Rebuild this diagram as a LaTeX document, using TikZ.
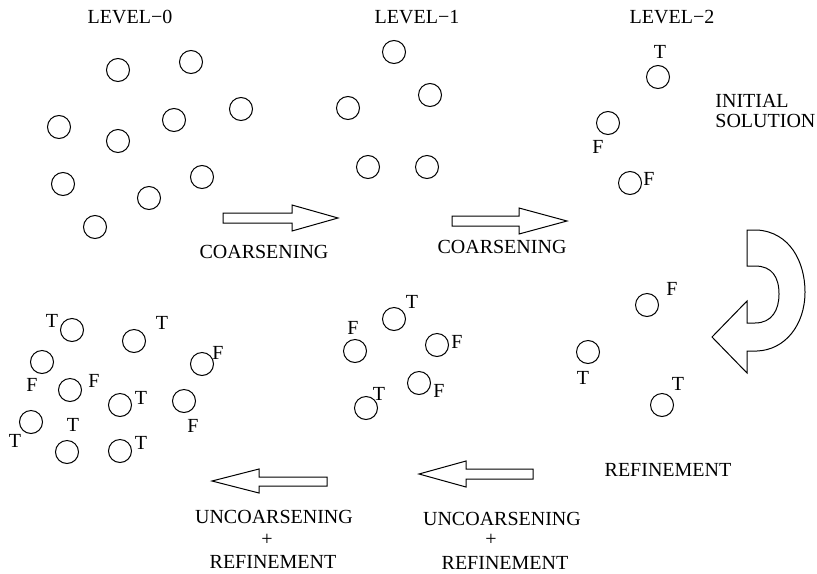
\documentclass[tikz,border=0pt]{standalone}
\usepackage{fontspec}
\setmainfont{Liberation Serif}
\tikzset{
  px/.style={x=0.5pt,y=-0.5pt},
  circ/.style={circle,draw,line width=0.5pt,minimum size=11.5pt,inner sep=0pt},
  lab/.style={inner sep=0pt,font=\fontsize{10}{12}\selectfont},
  blockarrow/.style={draw,line width=0.5pt,line join=miter},
}
\begin{document}
\begin{tikzpicture}[px]
\useasboundingbox (0,0) rectangle (817,573);
% ---------- headings ----------
\node[lab] (h0) at (130,17) {LEVEL\char"2212 0};
\node[lab] (h1) at (417,17) {LEVEL\char"2212 1};
\node[lab] (h2) at (672,17) {LEVEL\char"2212 2};
% ---------- level 0 ----------
\node[circ] (a1) at (118,70) {};
\node[circ] (a2) at (191,62) {};
\node[circ] (a3) at (241,109) {};
\node[circ] (a4) at (59,127) {};
\node[circ] (a5) at (174,120) {};
\node[circ] (a6) at (118,141) {};
\node[circ] (a7) at (63,184) {};
\node[circ] (a8) at (202,177) {};
\node[circ] (a9) at (149,198) {};
\node[circ] (a10) at (95,227) {};
% ---------- level 1 ----------
\node[circ] (b1) at (394,52) {};
\node[circ] (b2) at (430,95) {};
\node[circ] (b3) at (348,108) {};
\node[circ] (b4) at (368,167) {};
\node[circ] (b5) at (427,167) {};
% ---------- level 2 ----------
\node[circ] (c1) at (658,77) {};
\node[lab] (c1l) at (660,52) {T};
\node[circ] (c2) at (608,123) {};
\node[lab] (c2l) at (598,147) {F};
\node[circ] (c3) at (630,183) {};
\node[lab] (c3l) at (649,179) {F};
\node[lab,align=left,anchor=west] (init) at (715,111) {INITIAL\\[-2pt]SOLUTION};
% ---------- coarsening arrows ----------
\draw[blockarrow] (223,213) -- (292,213) -- (292,205) -- (338,218) -- (292,231) -- (292,223) -- (223,223) -- cycle;
\node[lab] (co1) at (264,252) {COARSENING};
\draw[blockarrow] (452,216) -- (519,216) -- (519,208) -- (567,221) -- (519,234) -- (519,226) -- (452,226) -- cycle;
\node[lab] (co2) at (502,247) {COARSENING};
% ---------- curved arrow ----------
\draw[blockarrow] (747,230) -- (757,230) .. controls (790,232) and (805,262) .. (805,292)
  .. controls (805,325) and (785,350) .. (757,351) -- (747,351) -- (747,373) -- (712,337)
  -- (747,301) -- (747,323) -- (755,323) .. controls (772,323) and (779,310) .. (779,294)
  .. controls (779,277) and (772,266) .. (755,266) -- (747,266) -- cycle;
% ---------- refined level 2 ----------
\node[circ] (d1) at (647,305) {};
\node[lab] (d1l) at (672,289) {F};
\node[circ] (d2) at (588,352) {};
\node[lab] (d2l) at (583,378) {T};
\node[circ] (d3) at (662,405) {};
\node[lab] (d3l) at (678,384) {T};
\node[lab] (ref) at (668,470) {REFINEMENT};
% ---------- refined level 1 ----------
\node[circ] (e1) at (394,319) {};
\node[lab] (e1l) at (412,302) {T};
\node[circ] (e2) at (355,351) {};
\node[lab] (e2l) at (353,328) {F};
\node[circ] (e3) at (437,345) {};
\node[lab] (e3l) at (457,342) {F};
\node[circ] (e4) at (419,383) {};
\node[lab] (e4l) at (439,391) {F};
\node[circ] (e5) at (366,408) {};
\node[lab] (e5l) at (379,394) {T};
% ---------- refined level 0 ----------
\node[circ] (f1) at (72,330) {};
\node[lab] (f1l) at (52,321) {T};
\node[circ] (f2) at (134,341) {};
\node[lab] (f2l) at (162,323) {T};
\node[circ] (f3) at (42,362) {};
\node[lab] (f3l) at (32,385) {F};
\node[circ] (f4) at (70,390) {};
\node[lab] (f4l) at (94,381) {F};
\node[circ] (f5) at (202,364) {};
\node[lab] (f5l) at (218,353) {F};
\node[circ] (f6) at (120,405) {};
\node[lab] (f6l) at (141,398) {T};
\node[circ] (f7) at (184,401) {};
\node[lab] (f7l) at (193,426) {F};
\node[circ] (f8) at (31,422) {};
\node[lab] (f8l) at (15,441) {T};
\node[lab] (f9l) at (73,425) {T};
\node[circ] (f9) at (67,452) {};
\node[circ] (f10) at (120,451) {};
\node[lab] (f10l) at (141,443) {T};
% ---------- uncoarsening arrows ----------
\draw[blockarrow] (533,469) -- (466,469) -- (466,461) -- (419,474) -- (466,487) -- (466,479) -- (533,479) -- cycle;
\node[lab] (u2a) at (502,519) {UNCOARSENING};
\node[lab] (u2b) at (491,540) {+};
\node[lab] (u2c) at (505,563) {REFINEMENT};
\draw[blockarrow] (327,477) -- (259,477) -- (259,469) -- (212,481) -- (259,493) -- (259,486) -- (327,486) -- cycle;
\node[lab] (u1a) at (274,517) {UNCOARSENING};
\node[lab] (u1b) at (267,540) {+};
\node[lab] (u1c) at (273,562) {REFINEMENT};
\end{tikzpicture}
\end{document}
